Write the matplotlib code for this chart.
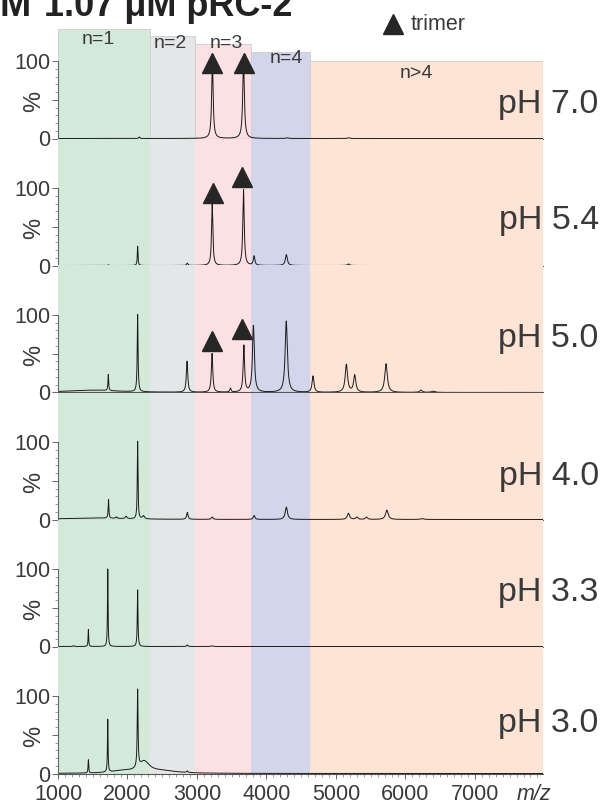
import numpy as np
import matplotlib.pyplot as plt
from matplotlib.ticker import FixedLocator, MultipleLocator

plt.rcParams['font.family'] = ['Liberation Sans', 'DejaVu Sans']

# ---- data ----
ph_labels = ['pH 7.0', 'pH 5.4', 'pH 5.0', 'pH 4.0', 'pH 3.3', 'pH 3.0']

# peak centres (m/z), heights (%), half widths (m/z) for each pH trace
peak_mz = [
    [2170, 3222, 3670, 4300, 5180],
    [1725, 2146, 2861, 3219, 3670, 3822, 4286, 5180],
    [1500, 1724, 2146, 2857, 3217, 3482, 3675, 3812, 4285, 4670, 5150, 5270, 5721, 6224, 6400],
    [1500, 1727, 1840, 1980, 2146, 2230, 2861, 3219, 3822, 4286, 5180, 5300, 5440, 5733, 6240],
    [1225, 1437, 1716, 2146, 2861, 3219],
    [1437, 1716, 1930, 2146, 2240, 2500, 2861],
]
peak_int = [
    [2, 97, 100, 1, 1],
    [1, 25, 3, 80, 98, 12, 14, 2],
    [3, 21, 100, 40, 50, 5, 60, 86, 92, 21, 36, 22, 37, 3, 1.5],
    [2, 24, 2, 3, 100, 4, 9, 3, 5, 16, 8, 3, 3, 12, 1],
    [1, 22, 100, 73, 2, 1],
    [17, 68, 3, 100, 14, 3, 2],
]
peak_w = [
    [9, 13, 14, 15, 18],
    [6, 6, 11, 11, 12, 13, 17, 18],
    [450, 6, 7, 12, 12, 11, 12, 16, 19, 16, 20, 19, 22, 22, 30],
    [500, 6, 11, 14, 6, 18, 12, 14, 14, 19, 20, 18, 18, 23, 30],
    [10, 5, 5, 6, 11, 14],
    [5, 5, 200, 7, 90, 250, 11],
]

# trimer markers (m/z, %) in the first three traces
tri_mz = [[3222, 3670], [3236, 3645], [3217, 3650]]
tri_y = [[98, 98], [93, 114], [66, 82]]

ph_y = [44, 58, 70, 55, 70, 64]

# oligomer regions
reg_names = ['n=1', 'n=2', 'n=3', 'n=4', 'n>4']
reg_start = [1000, 2330, 2970, 3778, 4630]
reg_end = [2330, 2970, 3778, 4625, 7980]
reg_top = [141, 132, 122, 111.5, 100]
reg_colors = ['#d3eadb', '#e4e6e7', '#fbe1e3', '#d3d5ea', '#fde4d4']

XMIN, XMAX = 1000, 7980
W, H = 607, 808
fig = plt.figure(figsize=(W / 100, H / 100), dpi=100)

left = 58 / W
width = (543 - 58) / W
period = 127
pxu = 0.775          # px per % unit
ytop = period / pxu

mz = np.linspace(XMIN, XMAX, 13961)
textc = '#3a3a3a'

axes = []
for k in range(6):
    base = 138.5 + period * k
    ax = fig.add_axes([left, 1 - base / H, width, period / H])
    axes.append(ax)
    ax.set_xlim(XMIN, XMAX)
    ax.set_ylim(0, ytop)
    ax.patch.set_alpha(0)

    # shaded regions
    if k == 0:
        for s, e, t, c in zip(reg_start, reg_end, reg_top, reg_colors):
            ax.bar(s, t, width=e - s, align='edge', color=c,
                   edgecolor='#d0d0d0', linewidth=0.7, zorder=0)
    else:
        for s, e, c in zip(reg_start, reg_end, reg_colors):
            ax.axvspan(s, e, color=c, lw=0, zorder=0)

    # spectrum
    y = np.zeros_like(mz)
    for c, h, w in zip(peak_mz[k], peak_int[k], peak_w[k]):
        y += h / (1 + ((mz - c) / w) ** 2)
    ax.plot(mz, y, color='#1a1a1a', lw=0.7, zorder=2)

    if k < 3:
        ax.plot(tri_mz[k], tri_y[k], ls='none', marker='^', ms=15,
                color='#262626', zorder=3, clip_on=False)

    # axes styling
    for sp in ['top', 'right']:
        ax.spines[sp].set_visible(False)
    ax.spines['left'].set_bounds(0, 100)
    ax.spines['left'].set_color('#666666')
    ax.spines['bottom'].set_color('#555555')
    ax.spines['left'].set_linewidth(0.8)
    ax.spines['bottom'].set_linewidth(0.8)
    ax.yaxis.set_major_locator(FixedLocator([0, 50, 100]))
    ax.set_yticklabels(['0', '', '100'])
    ax.yaxis.set_minor_locator(FixedLocator(np.arange(10, 100, 10)))
    ax.xaxis.set_major_locator(MultipleLocator(1000))
    ax.xaxis.set_minor_locator(MultipleLocator(100))
    ax.tick_params(axis='y', which='major', length=4, width=0.7, color='#666666',
                   labelsize=15.5, labelcolor=textc, pad=1.5)
    ax.tick_params(axis='y', which='minor', length=2, width=0.5, color='#777777')
    ax.tick_params(axis='x', which='major', length=3.5, width=0.7, color='#666666',
                   labelsize=15.5, labelcolor=textc, pad=4)
    ax.tick_params(axis='x', which='minor', length=2, width=0.5, color='#777777')
    if k < 5:
        ax.tick_params(axis='x', labelbottom=False)

    ax.text(-0.05, 48, '%', transform=ax.get_yaxis_transform(), rotation=90,
            ha='center', va='center', fontsize=17, color=textc)
    ax.text(1.115, ph_y[k], ph_labels[k], transform=ax.get_yaxis_transform(),
            ha='right', va='center', fontsize=24.5, color=textc, clip_on=False)

# region labels in the top panel
ax0 = axes[0]
reg_text_x = [1577, 2616, 3424, 4290, 6152]
reg_text_y = [128, 123, 123, 102.6, 84.5]
for name, tx, ty in zip(reg_names, reg_text_x, reg_text_y):
    ax0.text(tx, ty, name, ha='center', va='center', fontsize=14, color=textc)

# trimer legend
ax0.plot([5820], [148], ls='none', marker='^', ms=15, color='#262626', clip_on=False)
ax0.text(6079, 147, 'trimer', ha='left', va='center', fontsize=15.5, color=textc)

fig.text(534 / W, 1 - 795 / H, 'm/z', style='italic', ha='center', va='center',
         fontsize=15.5, color=textc)

# title, cut off at the top edge as in the reference
fig.text(0.0, 1 - 16 / H, 'M', fontsize=27, fontweight='bold', color='#222222',
         va='baseline')
fig.text(44 / W, 1 - 16 / H, '1.07 μM pRC-2', fontsize=26, fontweight='bold',
         color='#222222', va='baseline')

fig.savefig('out.png', dpi=100)
